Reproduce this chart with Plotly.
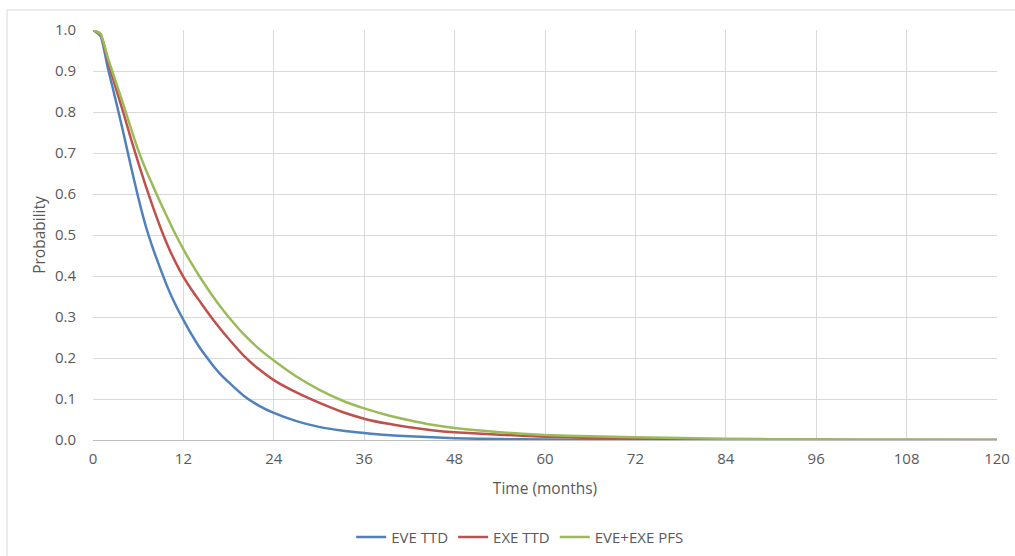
import plotly.graph_objects as go

months = [0, 1, 2, 3, 4, 5, 6, 7, 8, 9, 10, 11, 12, 13, 14, 15, 16, 17, 18, 20, 22, 24,
          27, 30, 33, 36, 39, 42, 45, 48, 54, 60, 66, 72, 84, 96, 108, 120]

eve_ttd = [1.0, 0.985, 0.905, 0.83, 0.752, 0.67, 0.592, 0.522, 0.465, 0.415, 0.368, 0.328,
           0.293, 0.26, 0.23, 0.204, 0.18, 0.159, 0.141, 0.108, 0.084, 0.066,
           0.046, 0.032, 0.023, 0.017, 0.012, 0.009, 0.0065, 0.0045, 0.0022, 0.001,
           0.0005, 0.0003, 0.0001, 0.0, 0.0, 0.0]

exe_ttd = [1.0, 0.99, 0.922, 0.86, 0.80, 0.737, 0.677, 0.62, 0.566, 0.516, 0.471, 0.432,
           0.398, 0.369, 0.343, 0.317, 0.292, 0.269, 0.247, 0.206, 0.173, 0.146,
           0.116, 0.091, 0.069, 0.052, 0.04, 0.031, 0.024, 0.019, 0.013, 0.008,
           0.005, 0.003, 0.0012, 0.0004, 0.0001, 0.0]

pfs = [1.0, 0.99, 0.93, 0.875, 0.82, 0.762, 0.707, 0.66, 0.618, 0.577, 0.538, 0.50,
       0.465, 0.433, 0.403, 0.375, 0.348, 0.323, 0.30, 0.258, 0.223, 0.194,
       0.155, 0.123, 0.097, 0.077, 0.061, 0.048, 0.037, 0.029, 0.019, 0.012,
       0.009, 0.0065, 0.003, 0.0012, 0.0005, 0.0002]

series = [("EVE TTD", eve_ttd, "#4F81BD"),
          ("EXE TTD", exe_ttd, "#C0504D"),
          ("EVE+EXE PFS", pfs, "#9BBB59")]

x_ticks = list(range(0, 121, 12))
y_ticks = [round(i * 0.1, 1) for i in range(11)]

fig = go.Figure()
for name, vals, color in series:
    fig.add_trace(go.Scatter(x=months, y=vals, mode="lines", name=name,
                             line=dict(color=color, width=2.5, shape="spline", smoothing=0.5)))

font_family = "'Open Sans', Lato, sans-serif"
txt = "#595959"
fig.update_layout(
    width=1015, height=556,
    margin=dict(l=93, r=18, t=30, b=116, autoexpand=False),
    paper_bgcolor="white", plot_bgcolor="white",
    font=dict(family=font_family, size=15, color=txt),
    showlegend=True,
    legend=dict(orientation="h", x=0.472, xanchor="center", y=-0.237, yanchor="middle",
                font=dict(size=15, color=txt), itemwidth=30, tracegroupgap=0),
    xaxis=dict(range=[0, 120], tickvals=x_ticks, ticktext=[str(v) for v in x_ticks],
               showgrid=True, gridcolor="#D9D9D9", gridwidth=1, automargin=False,
               showline=True, linecolor="#BFBFBF", linewidth=1, zeroline=False,
               ticks="", ticklabelstandoff=5, tickfont=dict(size=15, color=txt),
               title=dict(text="Time (months)", font=dict(size=15.5, color=txt), standoff=16)),
    yaxis=dict(range=[0, 1.0], tickvals=y_ticks, ticktext=[f"{v:.1f}" for v in y_ticks],
               showgrid=True, gridcolor="#D9D9D9", gridwidth=1, automargin=False,
               showline=False, zeroline=False, ticks="", ticklabelstandoff=16,
               tickfont=dict(size=15, color=txt),
               title=dict(text="Probability", font=dict(size=15.5, color=txt), standoff=5)),
    shapes=[dict(type="rect", xref="paper", yref="paper",
                 x0=-0.0951, x1=1.03, y0=-0.3, y1=1.0488,
                 line=dict(color="#D9D9D9", width=1), layer="below")],
)

fig.write_html("out.html",
               config={"displayModeBar": False},
               post_script="document.body.style.margin='0px';"
                           "document.body.style.overflow='hidden';"
                           "var gd=document.getElementById('{plot_id}');"
                           "Plotly.relayout(gd,{width:1015,height:556});")
